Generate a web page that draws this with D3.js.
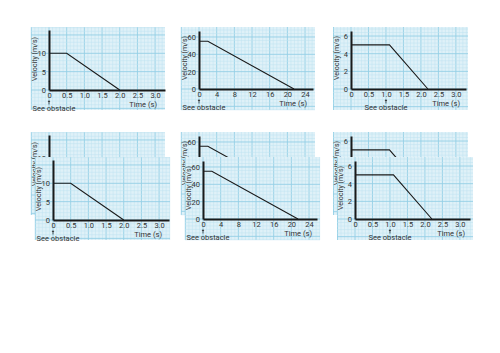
<!DOCTYPE html>
<html><head><meta charset="utf-8">
<script src="https://cdn.jsdelivr.net/npm/d3@7"></script>
<style>
html,body{margin:0;padding:0;background:#fff;}
svg{display:block;}
text{font-family:Roboto,"Noto Sans",Arial,sans-serif;fill:#333;}
</style></head>
<body>
<svg id="chart" width="500" height="353"></svg>
<script>
// ---- data ----
const timeA = [0, 0.5, 2.0];
const velA  = [10, 10, 0];
const timeB = [0, 2, 21.5];
const velB  = [55, 55, 0];
const timeC = [0, 1.1, 2.2];
const velC  = [5, 5, 0];

const xTicksA = [0, 0.5, 1.0, 1.5, 2.0, 2.5, 3.0];
const xLabelsA = ["0", "0.5", "1.0", "1.5", "2.0", "2.5", "3.0"];
const yTicksA = [0, 5, 10];
const xTicksB = [0, 4, 8, 12, 16, 20, 24];
const xLabelsB = ["0", "4", "8", "12", "16", "20", "24"];
const yTicksB = [0, 20, 40, 60];
const xTicksC = [0, 0.5, 1.0, 1.5, 2.0, 2.5, 3.0];
const xLabelsC = ["0", "0.5", "1.0", "1.5", "2.0", "2.5", "3.0"];
const yTicksC = [0, 2, 4, 6];

const obstacleTimes = [0, 0, 1.0];
const xTitle = "Time (s)";
const yTitle = "Velocity (m/s)";
const obstacleLabel = "See obstacle";

// ---- layout ----
const panels = [
  {t: timeA, v: velA, xt: xTicksA, xl: xLabelsA, yt: yTicksA, obs: obstacleTimes[0],
   rx: 31, ry: 27, rw: 134, rh: 83, ox: 18, oy: 63, xMax: 3.28, xLen: 116, yMax: 16.35, yLen: 60,
   gx: 0.1, gy: 1},
  {t: timeB, v: velB, xt: xTicksB, xl: xLabelsB, yt: yTicksB, obs: obstacleTimes[1],
   rx: 181, ry: 27, rw: 134, rh: 83, ox: 18, oy: 62, xMax: 25.8, xLen: 114, yMax: 66.9, yLen: 58,
   gx: 0.8, gy: 4},
  {t: timeC, v: velC, xt: xTicksC, xl: xLabelsC, yt: yTicksC, obs: obstacleTimes[2],
   rx: 333, ry: 27, rw: 135, rh: 83, ox: 18, oy: 62, xMax: 3.29, xLen: 115, yMax: 6.57, yLen: 58,
   gx: 0.1, gy: 0.4}
];

const svg = d3.select("#chart");
const FS = 7.5;

function drawPanel(parent, p, dx, dy, wExtra) {
  const g = parent.append("g").attr("transform", `translate(${p.rx + dx},${p.ry + dy})`);
  const W = p.rw + (wExtra || 0), H = p.rh;
  g.append("rect").attr("width", W).attr("height", H).attr("fill", "#dff1f8");

  const x = d3.scaleLinear().domain([0, p.xMax]).range([p.ox, p.ox + p.xLen]);
  const y = d3.scaleLinear().domain([0, p.yMax]).range([p.oy, p.oy - p.yLen]);

  // grid
  const grid = g.append("g");
  const xs0 = Math.ceil(x.invert(0) / p.gx), xs1 = Math.floor(x.invert(W) / p.gx);
  for (let i = xs0; i <= xs1; i++) {
    const px = x(i * p.gx);
    grid.append("line").attr("x1", px).attr("x2", px).attr("y1", 0).attr("y2", H)
      .attr("stroke", i % 5 === 0 ? "#94cfe5" : "#bfe3f0").attr("stroke-width", i % 5 === 0 ? 0.9 : 0.5);
  }
  const ys0 = Math.ceil(y.invert(H) / p.gy), ys1 = Math.floor(y.invert(0) / p.gy);
  for (let i = ys0; i <= ys1; i++) {
    const py = y(i * p.gy);
    grid.append("line").attr("x1", 0).attr("x2", W).attr("y1", py).attr("y2", py)
      .attr("stroke", i % 5 === 0 ? "#94cfe5" : "#bfe3f0").attr("stroke-width", i % 5 === 0 ? 0.9 : 0.5);
  }

  // data line
  const pts = p.t.map((tv, i) => [tv, p.v[i]]);
  g.append("path").datum(pts)
    .attr("d", d3.line().x(d => x(d[0])).y(d => y(d[1])))
    .attr("fill", "none").attr("stroke", "#1a1a1a").attr("stroke-width", 1.1);

  // axes
  const xa = g.append("g").attr("transform", `translate(0,${p.oy})`)
    .call(d3.axisBottom(x).tickValues(p.xt).tickFormat((d, i) => p.xl[i]).tickSize(0).tickPadding(2.5));
  xa.select(".domain").attr("stroke", "#1a1a1a").attr("stroke-width", 2);
  xa.attr("font-family", null).attr("font-size", null);
  xa.selectAll("text").attr("font-size", FS).attr("fill", "#333");

  const ya = g.append("g").attr("transform", `translate(${p.ox},0)`)
    .call(d3.axisLeft(y).tickValues(p.yt).tickFormat(d3.format("d")).tickSize(0).tickPadding(3));
  ya.select(".domain").attr("stroke", "#1a1a1a").attr("stroke-width", 2);
  ya.attr("font-family", null).attr("font-size", null);
  ya.selectAll("text").attr("font-size", FS).attr("fill", "#333");

  // titles
  g.append("text").attr("x", W - 8).attr("y", p.oy + 17).attr("text-anchor", "end")
    .attr("font-size", FS).text(xTitle);
  g.append("text").attr("transform", `translate(${5.5},${p.oy - 31}) rotate(-90)`)
    .attr("text-anchor", "middle").attr("font-size", 7).text(yTitle);

  // obstacle
  const obx = x(p.obs);
  g.append("line").attr("x1", obx).attr("x2", obx).attr("y1", p.oy + 11.5).attr("y2", p.oy + 14.5)
    .attr("stroke", "#333").attr("stroke-width", 0.8);
  g.append("path").attr("d", `M${obx - 1.3},${p.oy + 12}L${obx},${p.oy + 10}L${obx + 1.3},${p.oy + 12}Z`)
    .attr("fill", "#333");
  const ot = g.append("text").attr("y", p.oy + 20.5).attr("font-size", FS)
    .attr("text-anchor", "middle").text(obstacleLabel);
  const half = ot.node().getComputedTextLength() / 2;
  ot.attr("x", Math.max(obx, 1.5 + half));
  return g;
}

panels.forEach(p => drawPanel(svg, p, 0, 0, 0));
panels.forEach(p => {
  const back = drawPanel(svg, p, 0, 105, 0);
  // the front copy covers most of the back copy; drop back-copy texts that are (almost) fully hidden
  const fx0 = p.rx + 4, fx1 = p.rx + 4 + p.rw + 1, fy0 = p.ry + 130, fy1 = p.ry + 130 + p.rh;
  back.selectAll("text").each(function() {
    const b = this.getBoundingClientRect();
    const ix = Math.max(0, Math.min(b.right, fx1) - Math.max(b.left, fx0));
    const iy = Math.max(0, Math.min(b.bottom, fy1) - Math.max(b.top, fy0));
    const frac = (ix * iy) / Math.max(1, b.width * b.height);
    if (frac > 0.75) d3.select(this).remove();
  });
  drawPanel(svg, p, 4, 130, 1);
});
</script>
</body></html>
